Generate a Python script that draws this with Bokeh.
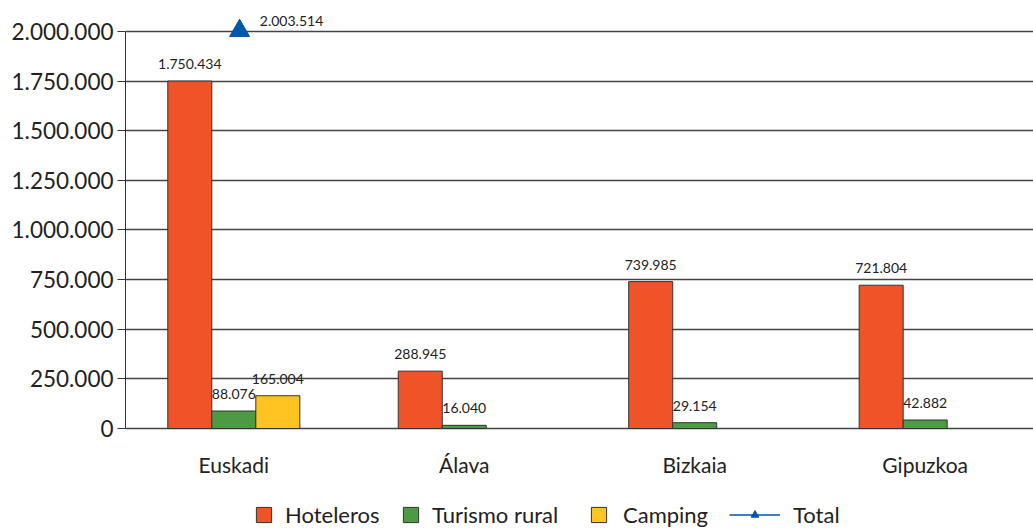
from bokeh.plotting import figure
from bokeh.models import (ColumnDataSource, FactorRange, Legend, LegendItem,
                          CustomJSTickFormatter, FixedTicker, LabelSet)
from bokeh.transform import dodge
from bokeh.core.properties import value
from bokeh.embed import file_html
from bokeh.resources import INLINE

categories = ["Euskadi", "Álava", "Bizkaia", "Gipuzkoa"]
hoteleros = [1750434, 288945, 739985, 721804]
turismo_rural = [88076, 16040, 29154, 42882]
camping_cats = ["Euskadi"]
camping = [165004]
total_cats = ["Euskadi"]
total = [2003514]
y_ticks = [0, 250000, 500000, 750000, 1000000, 1250000, 1500000, 1750000, 2000000]


def fmt(v):
    return f"{v:,}".replace(",", ".")


FONT = "Lato"
W = 0.191
TXT = "#222222"

p = figure(x_range=FactorRange(*categories, range_padding=-0.03,
                               range_padding_units="absolute"),
           y_range=(-508816, 2156171), width=1033, height=529,
           output_backend="svg", toolbar_location=None,
           min_border_left=125, min_border_right=0, min_border_top=0,
           min_border_bottom=0)
p.outline_line_color = None
p.background_fill_color = "white"

src_h = ColumnDataSource(dict(cat=categories, v=hoteleros, lab=[fmt(v) for v in hoteleros]))
src_t = ColumnDataSource(dict(cat=categories, v=turismo_rural, lab=[fmt(v) for v in turismo_rural]))
src_c = ColumnDataSource(dict(cat=camping_cats, v=camping, lab=[fmt(v) for v in camping]))
src_tot = ColumnDataSource(dict(cat=total_cats, v=total, lab=[fmt(v) for v in total]))
src_cat = ColumnDataSource(dict(cat=categories, y=[0] * len(categories)))

r_h = p.vbar(x=dodge("cat", -W, range=p.x_range), top="v", width=W, source=src_h,
             fill_color="#F05327", line_color="#333333", line_width=1)
r_t = p.vbar(x=dodge("cat", 0, range=p.x_range), top="v", width=W, source=src_t,
             fill_color="#4C9A44", line_color="#333333", line_width=1)
r_c = p.vbar(x=dodge("cat", W, range=p.x_range), top="v", width=W, source=src_c,
             fill_color="#FFC322", line_color="#333333", line_width=1)
r_line = p.line(x=dodge("cat", 0, range=p.x_range), y="v", source=src_tot,
                line_color="#0056A8", line_width=1.5)
r_tri = p.scatter(x=dodge("cat", 0.025, range=p.x_range), y="v", source=src_tot,
                  marker="triangle", size=20, fill_color="#0056A8", line_color="#0056A8")

for src, off in ((src_h, -W), (src_t, 0), (src_c, W)):
    p.add_layout(LabelSet(x=dodge("cat", off, range=p.x_range), y="v", text="lab",
                          source=src, text_align="center", text_baseline="middle",
                          y_offset=17, text_font=value(FONT), text_font_size="14px",
                          text_color=TXT))
p.add_layout(LabelSet(x=dodge("cat", 0, range=p.x_range), y="v", text="lab",
                      source=src_tot, text_align="left", text_baseline="middle",
                      x_offset=26, y_offset=10, text_font=value(FONT),
                      text_font_size="14px", text_color=TXT))
p.add_layout(LabelSet(x="cat", y="y", text="cat", source=src_cat,
                      text_align="center", text_baseline="middle", y_offset=-36,
                      text_font=value(FONT), text_font_size="21px", text_color=TXT))

p.yaxis.ticker = FixedTicker(ticks=y_ticks)
p.yaxis.bounds = (0, 2000000)
p.yaxis.formatter = CustomJSTickFormatter(
    code="return tick.toFixed(0).replace(/\\B(?=(\\d{3})+(?!\\d))/g, '.');")
p.yaxis.major_label_text_font = FONT
p.yaxis.major_label_text_font_size = "22.5px"
p.yaxis.major_label_text_color = TXT
p.yaxis.major_tick_out = 8
p.yaxis.major_tick_in = 0
p.yaxis.minor_tick_line_color = None
p.yaxis.axis_line_color = "#333333"
p.yaxis.major_tick_line_color = "#333333"
p.yaxis.major_label_standoff = 4

p.xaxis.visible = False
p.xgrid.grid_line_color = None
p.ygrid.ticker = FixedTicker(ticks=y_ticks)
p.ygrid.grid_line_color = "#444444"
p.ygrid.grid_line_width = 1.3

legend_specs = [
    ("Hoteleros", [r_h], 129, 19, 19, 12, 1),
    ("Turismo rural", [r_t], 276, 19, 19, 12, 1),
    ("Camping", [r_c], 464, 19, 19, 15, 1),
    ("Total", [r_line, r_tri], 604, 51, 19, 13, 1),
]
for label, rends, x0, gw, gh, standoff, y0 in legend_specs:
    lg = Legend(items=[LegendItem(label=label, renderers=rends)],
                orientation="horizontal", location=(x0, y0), padding=0, margin=0,
                spacing=0, glyph_width=gw, glyph_height=gh, label_height=19,
                label_text_font=FONT, label_text_font_size="22px",
                label_text_color=TXT, label_standoff=standoff,
                border_line_color=None, background_fill_alpha=0)
    p.add_layout(lg, "center")

open("out.html", "w").write(file_html(p, INLINE))
